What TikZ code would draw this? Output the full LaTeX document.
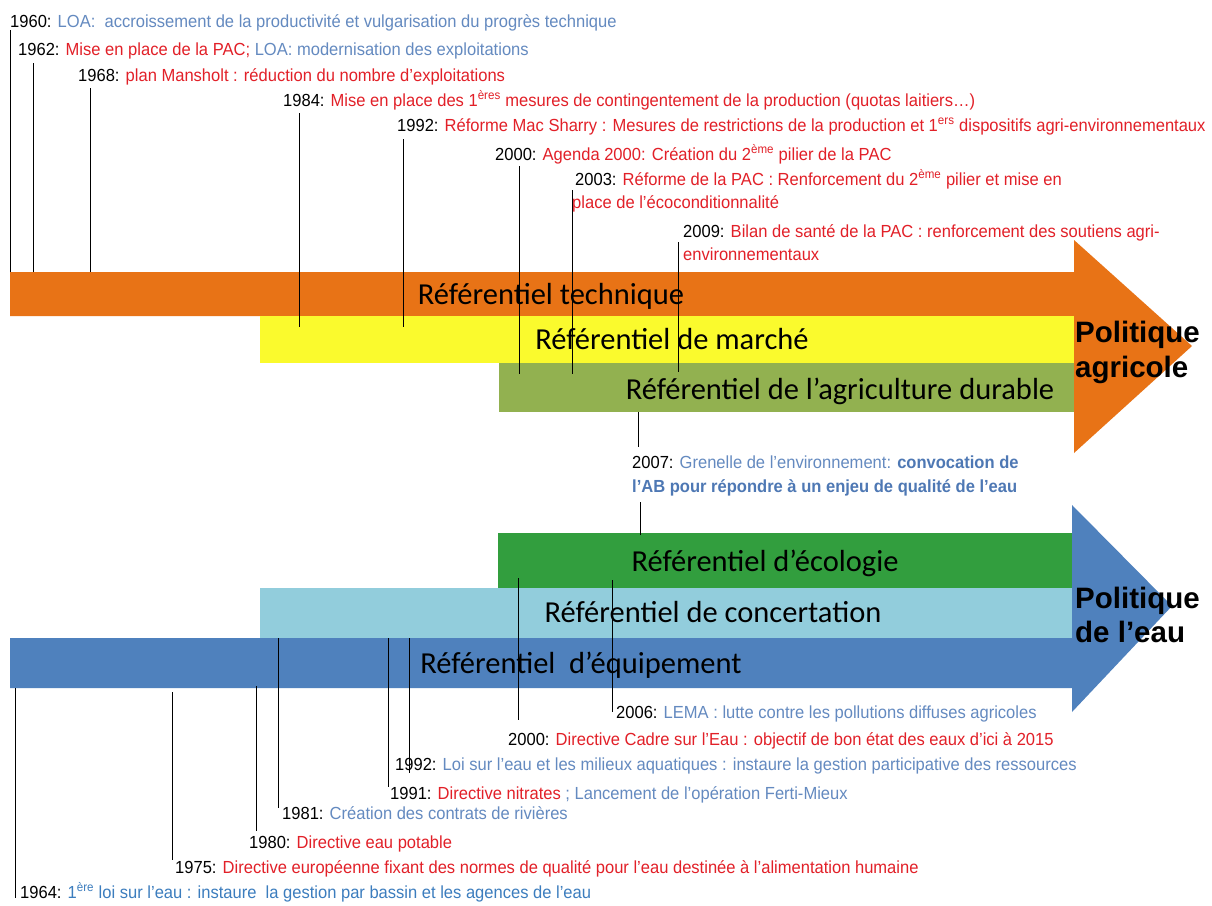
\documentclass[tikz,border=0pt]{standalone}
\usepackage{fontspec}
\setmainfont{Liberation Sans}
\newfontfamily\narrowfont[FakeStretch=0.945]{Liberation Sans}
\newfontfamily\calfont{Carlito}
\newfontfamily\arialfont{Liberation Sans}
\definecolor{cOrange}{RGB}{232,115,22}
\definecolor{cYellow}{RGB}{250,250,45}
\definecolor{cOlive}{RGB}{146,177,80}
\definecolor{cGreen}{RGB}{50,158,62}
\definecolor{cLightBlue}{RGB}{146,205,220}
\definecolor{cBlue}{RGB}{79,129,189}
\definecolor{tRed}{RGB}{226,32,40}
\definecolor{tBlue}{RGB}{100,138,192}
\definecolor{tBlueDark}{RGB}{78,120,180}
\definecolor{tBlueB}{RGB}{60,125,190}
\newcommand{\R}[1]{\textcolor{tRed}{#1}}
\newcommand{\B}[1]{\textcolor{tBlue}{#1}}
\begin{document}
\begin{tikzpicture}[x=1pt,y=-1pt,
  lbl/.style={anchor=base west, inner sep=0pt, font=\narrowfont\fontsize{17.5}{20}\selectfont},
  bandlbl/.style={anchor=base, inner sep=0pt, font=\calfont\fontsize{30.5}{34}\selectfont, text=black},
  pol/.style={anchor=base west, inner sep=0pt, font=\arialfont\bfseries\fontsize{29.5}{34}\selectfont, text=black},
  tick/.style={line width=0.9pt, black}]
\useasboundingbox (0,0) rectangle (1212,905);
\fill[white] (0,0) rectangle (1212,905);

% ---------- agricultural arrow ----------
\fill[cOrange] (10,272) -- (1074,272) -- (1074,240) -- (1192,346) -- (1074,453) -- (1074,316) -- (10,316) -- cycle;
\fill[cYellow] (260,316) rectangle (1074,363);
\fill[cOlive] (499,363) rectangle (1074,412);

% ---------- water arrow ----------
\fill[cBlue] (10,638) -- (1072,638) -- (1072,505) -- (1172,606) -- (1072,712) -- (1072,688) -- (10,688) -- cycle;
\fill[cLightBlue] (260,588) rectangle (1072,638);
\fill[cGreen] (498,533) rectangle (1072,588);

% ---------- top labels ----------
\node[lbl] (t1960) at (10,27) {1960: \B{LOA:\ \ accroissement de la productivité et vulgarisation du progrès technique}};
\node[lbl] (t1962) at (18,55) {1962: \R{Mise en place de la PAC;} \B{LOA: modernisation des exploitations}};
\node[lbl] (t1968) at (78,81) {1968: \R{plan Mansholt : réduction du nombre d’exploitations}};
\node[lbl] (t1984) at (283,106) {1984: \R{Mise en place des 1\textsuperscript{ères} mesures de contingentement de la production (quotas laitiers…)}};
\node[lbl] (t1992) at (397,131) {1992: \R{Réforme Mac Sharry : Mesures de restrictions de la production et 1\textsuperscript{ers} dispositifs agri-environnementaux}};
\node[lbl] (t2000) at (495,160) {2000: \R{Agenda 2000: Création du 2\textsuperscript{ème} pilier de la PAC}};
\node[lbl] (t2003) at (575,185) {2003: \R{Réforme de la PAC : Renforcement du 2\textsuperscript{ème} pilier et mise en}};
\node[lbl] (t2003b) at (572,208) {\R{place de l’écoconditionnalité}};
\node[lbl] (t2009) at (683,237) {2009: \R{Bilan de santé de la PAC : renforcement des soutiens agri-}};
\node[lbl] (t2009b) at (683,260) {\R{environnementaux}};

% ---------- middle label ----------
\node[lbl] (t2007) at (632,468) {2007: \B{Grenelle de l’environnement:} \textcolor{tBlueDark}{\bfseries convocation de}};
\node[lbl] (t2007b) at (632,492) {\textcolor{tBlueDark}{\bfseries l’AB pour répondre à un enjeu de qualité de l’eau}};

% ---------- bottom labels ----------
\node[lbl] (b2006) at (616,718) {2006: \B{LEMA : lutte contre les pollutions diffuses agricoles}};
\node[lbl] (b2000) at (508,745) {2000: \R{Directive Cadre sur l’Eau : objectif de bon état des eaux d’ici à 2015}};
\node[lbl] (b1992) at (395,770) {1992: \B{Loi sur l’eau et les milieux aquatiques : instaure la gestion participative des ressources}};
\node[lbl] (b1991) at (390,799) {1991: \R{Directive nitrates} \B{; Lancement de l’opération Ferti-Mieux}};
\node[lbl] (b1981) at (282,819) {1981: \B{Création des contrats de rivières}};
\node[lbl] (b1980) at (249,848) {1980: \R{Directive eau potable}};
\node[lbl] (b1975) at (175,873) {1975: \R{Directive européenne fixant des normes de qualité pour l’eau destinée à l’alimentation humaine}};
\node[lbl] (b1964) at (20,898) {1964: \textcolor{tBlueB}{1\textsuperscript{ère} loi sur l’eau : instaure\ \ la gestion par bassin et les agences de l’eau}};

% ---------- band labels ----------
\node[bandlbl] (rtech) at (551,304) {Référentiel technique};
\node[bandlbl] (rmarche) at (672,349) {Référentiel de marché};
\node[bandlbl] (rdurable) at (840,399) {Référentiel de l’agriculture durable};
\node[bandlbl] (reco) at (765,571) {Référentiel d’écologie};
\node[bandlbl] (rconc) at (713,622) {Référentiel de concertation};
\node[bandlbl] (requip) at (581,673) {Référentiel\ \ d’équipement};
\node[pol] (pagri1) at (1075,342) {Politique};
\node[pol] (pagri2) at (1075,377) {agricole};
\node[pol] (peau1) at (1075,608) {Politique};
\node[pol] (peau2) at (1075,642) {de l’eau};

% ---------- connector end points ----------
\coordinate (a1960) at (10,30);   \coordinate (e1960) at (10,272);
\coordinate (a1962) at (33,63);   \coordinate (e1962) at (33,272);
\coordinate (a1968) at (90,88);   \coordinate (e1968) at (90,272);
\coordinate (a1984) at (299,113); \coordinate (e1984) at (299,327);
\coordinate (a1992) at (403,139); \coordinate (e1992) at (403,327);
\coordinate (a2000) at (519,166); \coordinate (e2000) at (519,374);
\coordinate (a2003) at (572,190); \coordinate (e2003) at (572,374);
\coordinate (a2009) at (678,242); \coordinate (e2009) at (678,372);
\coordinate (a2007) at (638,412); \coordinate (e2007) at (638,447);
\coordinate (f2007) at (640,502); \coordinate (g2007) at (640,535);
\coordinate (a2006) at (612,580); \coordinate (e2006) at (612,712);
\coordinate (ab2000) at (518,578); \coordinate (eb2000) at (518,720);
\coordinate (ab1992) at (409,638); \coordinate (eb1992) at (409,773);
\coordinate (ab1991) at (388,638); \coordinate (eb1991) at (388,787);
\coordinate (ab1981) at (278,638); \coordinate (eb1981) at (278,808);
\coordinate (ab1980) at (256,686); \coordinate (eb1980) at (256,831);
\coordinate (ab1975) at (172,692); \coordinate (eb1975) at (172,860);
\coordinate (ab1964) at (15,688);  \coordinate (eb1964) at (15,898);

\foreach \p in {1960,1962,1968,1984,1992,2000,2003,2009,2007,2006}
  \draw[tick] (a\p) -- (e\p);
\draw[tick] (f2007) -- (g2007);
\foreach \p in {2000,1992,1991,1981,1980,1975,1964}
  \draw[tick] (ab\p) -- (eb\p);
\end{tikzpicture}
\end{document}
